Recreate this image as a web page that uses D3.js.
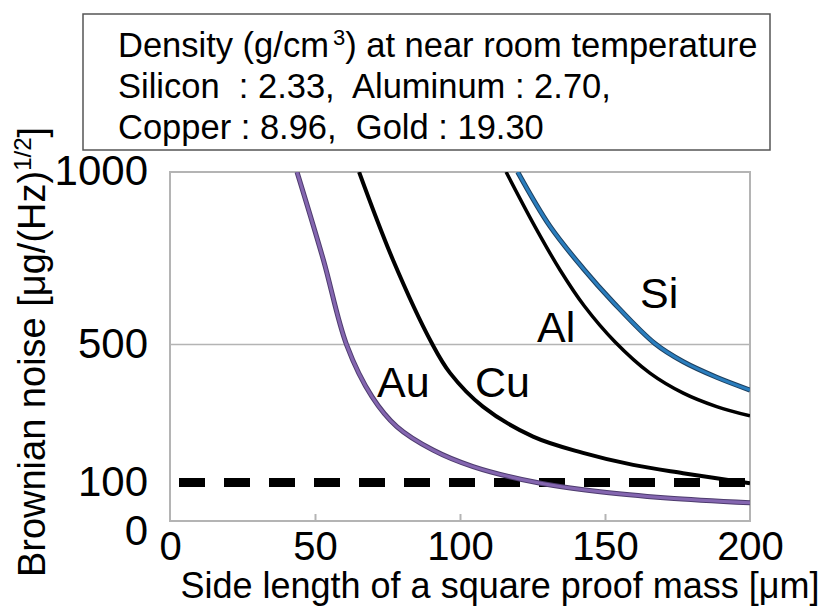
<!DOCTYPE html>
<html>
<head>
<meta charset="utf-8">
<script src="https://cdn.jsdelivr.net/npm/d3@7"></script>
<style>
  body { margin: 0; background: #fff; }
  text { font-family: "Liberation Sans", Arial, sans-serif; fill: #000; }
</style>
</head>
<body>
<script>
const width = 829;
const height = 607;

// side length [um] and Brownian noise [ug/Hz^1/2]
const goldPts = [[43.8, 1000], [52.9, 745], [60.9, 499], [69.7, 348], [78.2, 262],
  [90.7, 194], [104.5, 146], [125.2, 102], [148.3, 73], [171.4, 55], [200, 41]];
const copperPts = [[65.2, 1000], [76.9, 745], [90.2, 505], [96.6, 417], [107.9, 320], [125.2, 233],
  [142.4, 186], [159.7, 151], [176.9, 127], [200, 98]];
const aluminumPts = [[115.9, 1000], [125.9, 841], [134.5, 716], [143, 610], [153.4, 508],
  [165.5, 417], [177, 359], [188.5, 320], [200, 293]];
const siliconPts = [[119.9, 1000], [131, 843], [142.5, 720], [152.9, 622], [167.2, 503],
  [177, 450], [188.5, 405], [200, 368]];
const limitValue = 100;

const xTicks = [0, 50, 100, 150, 200];
const yTicks = [0, 100, 500, 1000];
const densityLines = ["Silicon  : 2.33,  Aluminum : 2.70,", "Copper : 8.96,  Gold : 19.30"];

const svg = d3.select("body").append("svg")
  .attr("width", width)
  .attr("height", height);

const x = d3.scaleLinear().domain([0, 200]).range([170, 750]);
const y = d3.scaleLinear().domain([0, 1000]).range([517, 172]);
const frameBottom = 521;

// plot frame
svg.append("rect")
  .attr("x", x(0)).attr("y", y(1000))
  .attr("width", x(200) - x(0)).attr("height", frameBottom - y(1000))
  .attr("fill", "none").attr("stroke", "#b4b4b4").attr("stroke-width", 2);

// 500 gridline
svg.append("line")
  .attr("x1", x(0)).attr("x2", x(200))
  .attr("y1", y(500)).attr("y2", y(500))
  .attr("stroke", "#b4b4b4").attr("stroke-width", 1.5);

// inward ticks on bottom
const tickAxis = svg.append("g")
  .attr("transform", `translate(0, ${frameBottom})`)
  .call(d3.axisBottom(x).tickValues([50, 100, 150]).tickSize(-7).tickFormat(""));
tickAxis.select(".domain").remove();
tickAxis.selectAll("line").attr("stroke", "#b4b4b4").attr("stroke-width", 2);

// tick labels
const xAxis = svg.append("g")
  .attr("transform", `translate(0, ${frameBottom})`)
  .call(d3.axisBottom(x).tickValues(xTicks).tickSize(0).tickPadding(11).tickFormat(d3.format("d")));
xAxis.select(".domain").remove();
xAxis.selectAll("text").attr("font-size", 40).attr("font-family", "Liberation Sans, Arial, sans-serif");

const yAxis = svg.append("g")
  .attr("transform", `translate(${x(0)}, 0)`)
  .call(d3.axisLeft(y).tickValues(yTicks).tickSize(0).tickPadding(22).tickFormat(d3.format("d")));
yAxis.select(".domain").remove();
yAxis.selectAll("text").attr("font-size", 42).attr("font-family", "Liberation Sans, Arial, sans-serif")
  .attr("dy", d => d === 0 ? "0.66em" : "0.3em");

// curves
svg.append("clipPath").attr("id", "plot")
  .append("rect").attr("x", x(0)).attr("y", y(1000))
  .attr("width", x(200) - x(0)).attr("height", frameBottom - y(1000));

const line = d3.line()
  .x(d => x(d[0]))
  .y(d => y(d[1]))
  .curve(d3.curveCatmullRom.alpha(0.5));

const g = svg.append("g").attr("clip-path", "url(#plot)");

// dashed limit line
g.append("line")
  .attr("x1", x(0)).attr("x2", x(200))
  .attr("y1", y(limitValue)).attr("y2", y(limitValue))
  .attr("stroke", "#000").attr("stroke-width", 9)
  .attr("stroke-dasharray", "26,19").attr("stroke-dashoffset", 36);

g.append("path").datum(copperPts).attr("d", line)
  .attr("fill", "none").attr("stroke", "#000").attr("stroke-width", 4);
g.append("path").datum(aluminumPts).attr("d", line)
  .attr("fill", "none").attr("stroke", "#000").attr("stroke-width", 3.5);

g.append("path").datum(goldPts).attr("d", line)
  .attr("fill", "none").attr("stroke", "#4e3c6e").attr("stroke-width", 5);
g.append("path").datum(goldPts).attr("d", line)
  .attr("fill", "none").attr("stroke", "#8466b0").attr("stroke-width", 3);

g.append("path").datum(siliconPts).attr("d", line)
  .attr("fill", "none").attr("stroke", "#1d3f5e").attr("stroke-width", 5);
g.append("path").datum(siliconPts).attr("d", line)
  .attr("fill", "none").attr("stroke", "#2a7dbd").attr("stroke-width", 3);

// curve labels
const labels = [["Au", 377, 397], ["Cu", 475, 397], ["Al", 537, 342], ["Si", 640, 308]];
svg.selectAll(".curve-label").data(labels).enter().append("text")
  .attr("class", "curve-label")
  .attr("x", d => d[1]).attr("y", d => d[2])
  .attr("font-size", 43)
  .text(d => d[0]);

// density box
svg.append("rect")
  .attr("x", 83).attr("y", 14).attr("width", 687).attr("height", 136)
  .attr("fill", "#fff").attr("stroke", "#555").attr("stroke-width", 1.5);

const t1 = svg.append("text").attr("x", 118).attr("y", 57).attr("font-size", 34.5);
t1.append("tspan").text("Density (g/cm");
t1.append("tspan").attr("dx", 4).attr("dy", -12).attr("font-size", 22).text("3");
t1.append("tspan").attr("dy", 12).text(") at near room temperature");

svg.selectAll(".dens").data(densityLines).enter().append("text")
  .attr("class", "dens")
  .attr("x", 118).attr("y", (d, i) => 98 + i * 41)
  .attr("font-size", 34.5)
  .attr("xml:space", "preserve")
  .style("white-space", "pre")
  .text(d => d);

// axis titles
svg.append("text")
  .attr("x", 500).attr("y", 598)
  .attr("text-anchor", "middle")
  .attr("font-size", 36)
  .text("Side length of a square proof mass [μm]");

const yt = svg.append("text")
  .attr("transform", "translate(45, 352) rotate(-90)")
  .attr("text-anchor", "middle")
  .attr("font-size", 38);
yt.append("tspan").text("Brownian noise [μg/(Hz)");
yt.append("tspan").attr("dy", -14).attr("font-size", 24).text("1/2");
yt.append("tspan").attr("dy", 14).text("]");
</script>
</body>
</html>
